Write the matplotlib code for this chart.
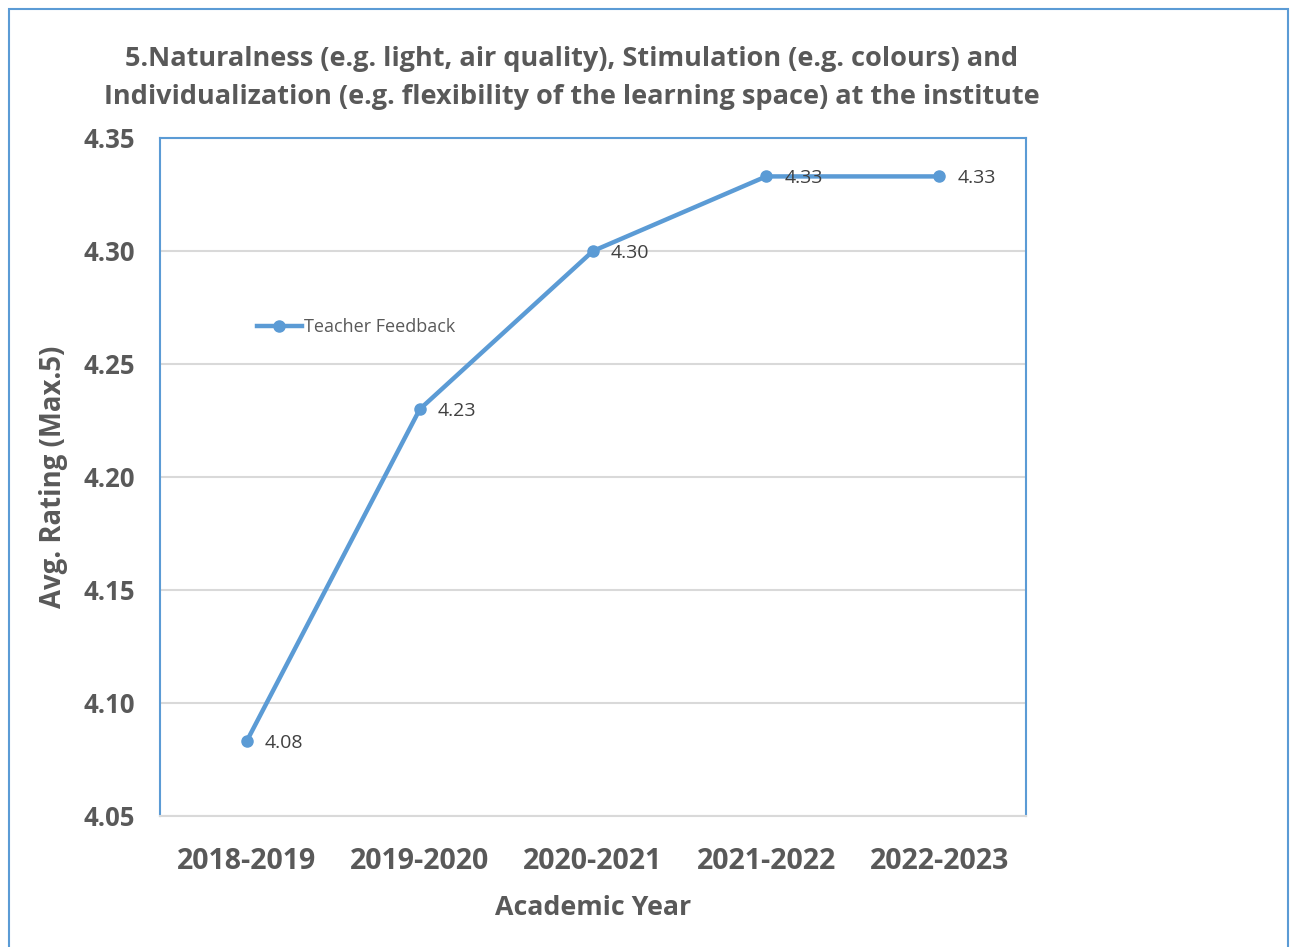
import matplotlib.pyplot as plt
from matplotlib.patches import Rectangle

years = ["2018-2019", "2019-2020", "2020-2021", "2021-2022", "2022-2023"]
ratings = [4.083, 4.23, 4.30, 4.333, 4.333]
yticks = [4.05, 4.10, 4.15, 4.20, 4.25, 4.30, 4.35]

blue = "#5B9BD5"
grey = "#595959"

plt.rcParams['font.family'] = ['Open Sans', 'DejaVu Sans']

fig = plt.figure(figsize=(12.93, 9.47), dpi=100)
ax = fig.add_axes([160 / 1293, 1 - 816 / 947, 866 / 1293, 678 / 947])

# outer chart border
fig.patches.append(Rectangle((9 / 1293, -0.05), 1279 / 1293, 1.05 - 9 / 947,
                             transform=fig.transFigure, fill=False,
                             edgecolor=blue, linewidth=1.5))

x = list(range(len(years)))
ax.plot(x, ratings, color=blue, linewidth=3.2, marker="o", markersize=8,
        label="Teacher Feedback", zorder=3)
for xi, v in zip(x, ratings):
    ax.annotate(f"{v:.2f}", (xi, v), xytext=(13, 0), textcoords="offset points",
                va="center_baseline", ha="left", fontsize=14, color="#404040", zorder=4)

ax.set_xlim(-0.5, len(years) - 0.5)
ax.set_ylim(4.05, 4.35)
ax.set_yticks(yticks)
ax.set_yticklabels([f"{t:.2f}" for t in yticks])
ax.set_xticks(x)
ax.set_xticklabels(years)
ax.tick_params(axis="x", length=0, labelsize=20.5, labelcolor=grey, pad=22)
ax.tick_params(axis="y", length=0, labelsize=18.5, labelcolor=grey, pad=18)
for lab in ax.get_xticklabels() + ax.get_yticklabels():
    lab.set_fontweight("bold")

ax.grid(axis="y", color="#D9D9D9", linewidth=1.5)
ax.set_axisbelow(True)
for side in ["left", "right", "top"]:
    ax.spines[side].set_color(blue)
    ax.spines[side].set_linewidth(1.5)
ax.spines["bottom"].set_color("#D9D9D9")
ax.spines["bottom"].set_linewidth(1.5)

ax.set_xlabel("Academic Year", fontsize=19.3, fontweight="bold", color=grey, labelpad=14)
ax.set_ylabel("Avg. Rating (Max.5)", fontsize=19.8, fontweight="bold", color=grey, labelpad=11)

fig.text(572 / 1293, 1 - 78 / 947,
         "5.Naturalness (e.g. light, air quality), Stimulation (e.g. colours) and\n"
         "Individualization (e.g. flexibility of the learning space) at the institute",
         ha="center", va="center", fontsize=19.5, fontweight="bold", color=grey,
         linespacing=1.6)

ax.legend(loc="center", bbox_to_anchor=(0.226, 0.721), frameon=False,
          fontsize=13, labelcolor="#595959", handlelength=2.5, handletextpad=0.1)

fig.savefig("out.png", dpi=100)
